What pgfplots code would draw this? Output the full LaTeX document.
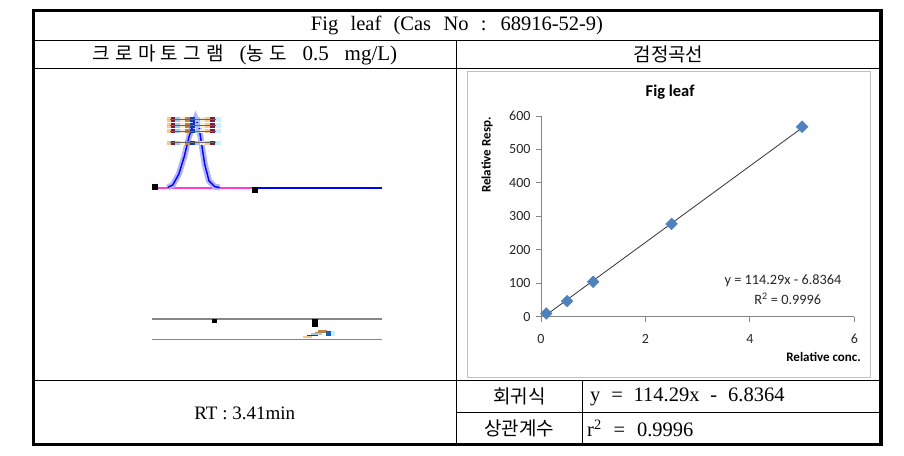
\documentclass[border=0pt]{standalone}
\usepackage{fontspec}
\setmainfont{Liberation Serif}
\newfontfamily\kr{Noto Sans CJK KR}
\newfontfamily\krwide[LetterSpace=28]{Noto Sans CJK KR}
\newfontfamily\calibri{Carlito}
\usepackage{pgfplots}
\pgfplotsset{compat=1.18}
\definecolor{exblue}{RGB}{79,129,189}
\definecolor{axgray}{RGB}{134,134,134}
\definecolor{boxgray}{RGB}{192,192,192}
\definecolor{ctan}{RGB}{245,200,140}
\definecolor{cbrown}{RGB}{190,130,70}
\definecolor{cmaroon}{RGB}{120,30,60}
\definecolor{clblue}{RGB}{160,200,232}
\definecolor{cdblue}{RGB}{20,60,160}
\definecolor{ccyan}{RGB}{200,240,250}
\definecolor{cbeige}{RGB}{250,235,215}
\definecolor{cpink}{RGB}{255,60,220}
\definecolor{cbase}{RGB}{0,0,255}
\newcommand\crow[1]{%
  \addplot[line width=4.5pt, color=ctan] coordinates {(166.7,#1)(221,#1)};
  \addplot[line width=4.5pt, color=cmaroon] coordinates {(170.7,#1)(175.3,#1)};
  \addplot[line width=4.5pt, color=clblue] coordinates {(175.3,#1)(180,#1)};
  \addplot[line width=4.5pt, color=cbeige] coordinates {(180,#1)(185,#1)};
  \addplot[line width=4.5pt, color=cbrown] coordinates {(185,#1)(190,#1)};
  \addplot[line width=4.5pt, color=cdblue] coordinates {(190,#1)(195,#1)};
  \addplot[line width=4.5pt, color=clblue] coordinates {(195,#1)(200,#1)};
  \addplot[line width=4.5pt, color=cbeige] coordinates {(200,#1)(205,#1)};
  \addplot[line width=4.5pt, color=ctan] coordinates {(205,#1)(210,#1)};
  \addplot[line width=4.5pt, color=cmaroon] coordinates {(210,#1)(215,#1)};
  \addplot[line width=4.5pt, color=ccyan] coordinates {(215,#1)(221,#1)};
  \addplot[line width=0.8pt, color=black!60] coordinates {(170,#1)(216,#1)};
}
\begin{document}
\begin{tikzpicture}[x=1pt,y=1pt]
\path[use as bounding box] (0pt,0pt) rectangle (904pt,-455pt);
% table grid
\draw[line width=1pt] (33.5,-40.5) -- (881,-40.5);
\draw[line width=1pt] (33.5,-68.5) -- (881,-68.5);
\draw[line width=1pt] (456,-40.5) -- (456,-444);
\draw[line width=1pt] (33.5,-380.7) -- (881,-380.7);
\draw[line width=1pt] (456,-412.7) -- (881,-412.7);
\draw[line width=1pt] (582.7,-380.7) -- (582.7,-444);
\draw[line width=3.3pt] (33.5,-10.7) rectangle (881,-444.3);
\draw[boxgray, line width=1.3pt] (467.7,-71.7) rectangle (870.5,-377.3);
% table texts
\node[font=\fontsize{20.5}{23}\selectfont] at (457,-25.6) {\spaceskip=0.6em Fig leaf (Cas No : 68916-52-9)};
\node[font=\fontsize{21}{23}\selectfont] at (244.8,-54.5) {\spaceskip=0.75em {\krwide\fontsize{19}{22}\selectfont 크로마토그램} ({\krwide\fontsize{19}{22}\selectfont 농도} 0.5 mg/L)};
\node[font=\kr\fontsize{19}{22}\selectfont] at (668.5,-54.5) {검정곡선};
\node[font=\fontsize{19}{22}\selectfont] at (244.8,-413) {RT : 3.41min};
\node[font=\kr\fontsize{19}{22}\selectfont] at (519.4,-396.7) {회귀식};
\node[font=\kr\fontsize{19}{22}\selectfont] at (519.4,-428.4) {상관계수};
\node[font=\fontsize{20.5}{23}\selectfont, anchor=west, inner sep=0pt] at (590,-396.7) {\spaceskip=0.53em y = 114.29x - 6.8364};
\node[font=\fontsize{20.5}{23}\selectfont, anchor=west, inner sep=0pt] at (587,-428.4) {\spaceskip=0.58em r\textsuperscript{2} = 0.9996};

% chromatogram
\begin{axis}[at={(140pt,-350pt)}, anchor=south west, scale only axis,
  width=250pt, height=250pt, xmin=140, xmax=390, ymin=100, ymax=350,
  y dir=reverse, hide axis, clip=false]
\addplot[draw=cpink, line width=1.8pt] coordinates {(156,187.6)(252,187.6)};
\addplot[draw=cbase, line width=1.8pt] coordinates {(252,187.6)(382,187.6)};
\addplot[draw=blue!30, line width=6pt] coordinates {(167.7,187.6)(172.8,184.9)(178.8,174.2)(184.5,155.7)(188.9,137.2)(192.9,125.4)(195.6,118.7)(199,127.1)(201.3,142.2)(204.7,164.1)(209,180.9)(214.8,186.6)(219.8,187.6)};
\addplot[draw=cbase, line width=1.4pt] coordinates {(167.7,187.6)(172.8,184.9)(178.8,174.2)(184.5,155.7)(188.9,137.2)(192.9,125.4)(195.6,118.7)(199,127.1)(201.3,142.2)(204.7,164.1)(209,180.9)(214.8,186.6)(219.8,187.6)};
\crow{119.5}
\crow{125.6}
\crow{131.2}
\crow{142.8}
\addplot[only marks, mark=square*, mark size=2.4pt, color=black] coordinates {(154.3,186.3)(254.4,189.6)};
\addplot[draw=axgray, line width=1.3pt] coordinates {(151.6,319)(381.8,319)};
\addplot[draw=axgray, line width=1.3pt] coordinates {(151.6,339.8)(381.8,339.8)};
\addplot[only marks, mark=square*, mark size=1.8pt, color=black] coordinates {(214.4,320.6)};
\addplot[only marks, mark=square*, mark size=2.4pt, mark options={yscale=1.6}, color=black] coordinates {(314.6,322.7)};
\addplot[line width=1.5pt, color=ctan] coordinates {(303,337)(312,337)};
\addplot[line width=1.5pt, color=cmaroon] coordinates {(307,335.5)(318,335.5)};
\addplot[line width=1.5pt, color=clblue] coordinates {(311,334)(322,334)};
\addplot[line width=1.5pt, color=cbrown] coordinates {(315,332.5)(326,332.5)};
\addplot[line width=2pt, color=cbrown] coordinates {(318,331)(327,331)};
\addplot[line width=4.5pt, color=cdblue!80!cyan] coordinates {(326,333.5)(331,333.5)};
\addplot[line width=4.5pt, color=ccyan] coordinates {(331,333.5)(335,333.5)};
\end{axis}

% calibration curve
\begin{axis}[at={(541pt,-316.5pt)}, anchor=south west, scale only axis,
  width=313.3pt, height=200.5pt,
  xmin=0, xmax=6, ymin=0, ymax=600,
  axis x line*=bottom, axis y line*=left,
  axis line style={axgray, line width=0.9pt, -},
  xtick={0,2,4,6}, ytick={0,100,...,600},
  tick align=outside, major tick length=5pt,
  tick style={axgray, line width=0.9pt},
  tick label style={font=\calibri\fontsize{14}{16}\selectfont, text=black!85},
  xticklabel style={yshift=-9pt},
  yticklabel style={xshift=-2pt},
  /pgf/number format/assume math mode=true,
  title={Fig leaf},
  title style={at={(axis description cs:0.412,1.09)}, anchor=center, font=\calibri\bfseries\fontsize{16.5}{18}\selectfont},
  xlabel={Relative conc.},
  xlabel style={at={(axis description cs:0.902,-0.202)}, anchor=center, font=\calibri\bfseries\fontsize{13}{15}\selectfont},
  ylabel={Relative Resp.},
  ylabel style={at={(axis description cs:-0.172,0.805)}, anchor=center, font=\calibri\bfseries\fontsize{13}{15}\selectfont},
  clip=false]
\addplot[color=black!80, line width=0.8pt] coordinates {(0.1,4.59)(5,564.61)};
\addplot[only marks, mark=square*, mark size=4.2pt, mark options={rotate=45, fill=exblue, draw=exblue}] coordinates {(0.1,9)(0.5,46)(1,104)(2.5,277)(5,568)};
\node[font=\calibri\fontsize{14.3}{16}\selectfont, text=black!85] at (axis cs:4.634,107) {y = 114.29x - 6.8364};
\node[font=\calibri\fontsize{14.3}{16}\selectfont, text=black!85] at (axis cs:4.725,54) {R\textsuperscript{2} = 0.9996};
\end{axis}
\end{tikzpicture}
\end{document}
